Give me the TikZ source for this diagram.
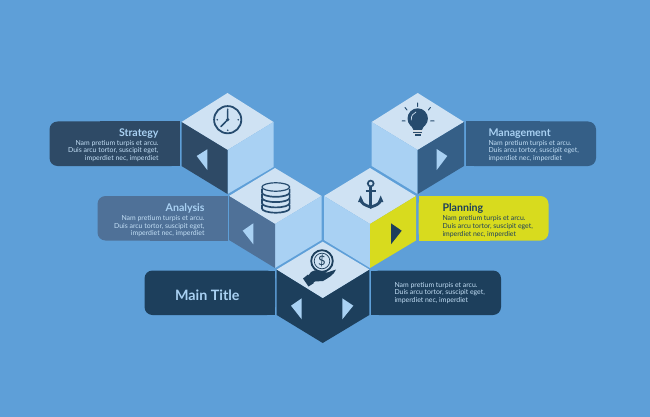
\documentclass[tikz,border=0pt]{standalone}
\usepackage{fontspec}
\setmainfont{Lato}
\usetikzlibrary{positioning}
\definecolor{bgblue}{HTML}{5E9FD8}
\definecolor{topface}{HTML}{CFE2F3}
\definecolor{sideface}{HTML}{A9D1F3}
\definecolor{stratblue}{HTML}{2E4A66}
\definecolor{analblue}{HTML}{4F7198}
\definecolor{mgmtblue}{HTML}{355F87}
\definecolor{planyellow}{HTML}{D8DB1E}
\definecolor{mainblue}{HTML}{1D3F5C}
\definecolor{icondark}{HTML}{264B6E}
\definecolor{lighttext}{HTML}{C3DFF6}
\tikzstyle{title} = [inner sep=0pt, font=\fontsize{10.6}{11}\selectfont\bfseries, text=sideface]
\tikzstyle{body} = [inner sep=0pt, font=\fontsize{6.9}{7.7}\selectfont, text=lighttext]
\tikzstyle{iconline} = [draw=icondark, line width=1.8pt]
\tikzstyle{panel} = [rounded corners=8pt]
\begin{document}
\begin{tikzpicture}[x=1pt, y=-1pt]
  \fill[bgblue] (0,0) rectangle (650,417);
  \useasboundingbox (0,0) rectangle (650,417);

  % Panels
  \fill[stratblue, panel] (49.5,121.5) rectangle (179.5,166);
  \fill[stratblue] (100,121.5) rectangle (179.5,166);
  \fill[analblue, panel] (97.5,196) rectangle (227.5,240.5);
  \fill[analblue] (150,196) rectangle (227.5,240.5);
  \fill[mgmtblue, panel] (466,121.5) rectangle (596,166);
  \fill[mgmtblue] (466,121.5) rectangle (540,166);
  \fill[planyellow, panel] (418.5,196) rectangle (548.5,240.5);
  \fill[planyellow] (418.5,196) rectangle (490,240.5);
  \fill[mainblue, panel] (144.5,270.5) rectangle (275,315);
  \fill[mainblue] (200,270.5) rectangle (275,315);
  \fill[mainblue, panel] (371,270.5) rectangle (501,315);
  \fill[mainblue] (371,270.5) rectangle (440,315);

  % Strategy cube
  \fill[topface] (227.5,93) -- (273.5,122) -- (227.5,150) -- (181.5,122) -- cycle;
  \fill[sideface] (227.5,150) -- (273.5,122) -- (273.5,167) -- (227.5,194) -- cycle;
  \fill[stratblue] (181.5,122) -- (227.5,150) -- (227.5,194) -- (181.5,166) -- cycle;
  \fill[sideface] (196.7,156) -- (207.3,149.3) -- (207.3,170) -- cycle;

  % Analysis cube
  \fill[topface] (275,168) -- (321.5,196) -- (275,224) -- (229,196) -- cycle;
  \fill[sideface] (275,224) -- (321.5,196) -- (321.5,240) -- (275,268) -- cycle;
  \fill[analblue] (229,196) -- (275,224) -- (275,268) -- (229,240) -- cycle;
  \fill[sideface] (242.7,230.7) -- (253.3,223.3) -- (253.3,244.3) -- cycle;

  % Management cube
  \fill[topface] (417.7,93) -- (464,122) -- (417.7,150) -- (371.7,122) -- cycle;
  \fill[sideface] (371.7,122) -- (417.7,150) -- (417.7,194) -- (371.7,166) -- cycle;
  \fill[mgmtblue] (417.7,150) -- (464,122) -- (464,166) -- (417.7,194) -- cycle;
  \fill[sideface] (436.7,149) -- (447.3,156) -- (436.7,170) -- cycle;

  % Planning cube
  \fill[topface] (370,168) -- (416,196) -- (370,224) -- (324,196) -- cycle;
  \fill[sideface] (324,196) -- (370,224) -- (370,268) -- (324,240) -- cycle;
  \fill[planyellow] (370,224) -- (416,196) -- (416,240.5) -- (370,268) -- cycle;
  \fill[mainblue] (391,223.3) -- (401.7,230.7) -- (391,244.3) -- cycle;

  % Main cube
  \fill[mainblue] (276.7,269.5) -- (322.7,298) -- (369.3,269.5) -- (369.3,315) -- (322.7,343) -- (276.7,315) -- cycle;
  \fill[topface] (322.7,241.7) -- (369.3,269.5) -- (322.7,298) -- (276.7,269.5) -- cycle;
  \fill[sideface] (291,305.7) -- (301.7,298.3) -- (301.7,319.3) -- cycle;
  \fill[sideface] (342.3,298.3) -- (353.3,305.7) -- (342.3,319.3) -- cycle;

  % Clock
  \draw[iconline] (227.7,119.7) circle (13.6);
  \draw[iconline, line width=1.5pt, line cap=round] (227.7,110.5) -- (227.7,119.7) -- (221,126.5);
  \fill[icondark] (227.7,119.7) circle (1.8);
  \foreach \dx/\dy in {0/-10.5, 10.5/0, 0/10.5, -10.5/0}
    \fill[icondark] (227.7+\dx,119.7+\dy) circle (0.9);

  % Coins
  \foreach \cy in {208.5,203.2,197.9,192.6}
    \draw[iconline, line width=1.7pt, fill=topface] (262,\cy-4) -- (262,\cy) arc[start angle=180, end angle=360, x radius=13.8, y radius=-4.2] -- (289.6,\cy-4);
  \draw[iconline, line width=1.2pt, fill=topface] (275.8,187) ellipse (13.8 and 4.2);

  % Bulb
  \fill[icondark] (417.7,118.5) circle (10.2);
  \fill[icondark] (411,125) -- (424.4,125) -- (422,130) -- (413.4,130) -- cycle;
  \fill[white!80!icondark] (413.4,130) rectangle (422,134);
  \draw[icondark, line width=0.9pt] (413.4,132) -- (422,132);
  \fill[icondark] (414.8,134) rectangle (420.6,136.3);
  \draw[topface, line width=0.7pt, line cap=round] (411.3,120) .. controls (411,116) and (413,113) .. (416,112);
  \draw[icondark, line width=1pt, line cap=round] (417.7,103) -- (417.7,106.5) (407,110) -- (405,107.5) (428.4,110) -- (430.4,107.5) (402,121) -- (405,121) (430.5,121) -- (434,121);

  % Anchor
  \draw[icondark, line width=1.7pt] (370.7,183.5) circle (2.9);
  \draw[icondark, line width=3pt] (370.7,186.5) -- (370.7,206);
  \draw[icondark, line width=2pt] (365.5,190.5) -- (375.9,190.5);
  \draw[icondark, line width=2.8pt] (360.5,199) .. controls (361,204) and (366,205.5) .. (370.7,207) .. controls (375.4,205.5) and (380.4,204) .. (380.9,199);
  \fill[icondark] (358,202) -- (360.7,195.5) -- (363.4,202) -- cycle;
  \fill[icondark] (378,202) -- (380.7,195.5) -- (383.4,202) -- cycle;
  \fill[icondark] (366,206) -- (375.4,206) -- (370.7,208.8) -- cycle;

  % Hand with coin
  \draw[mainblue, line width=1.8pt] (322,261) circle (10.8);
  \draw[mainblue, line width=0.7pt] (322,261) circle (7.8);
  \node (dollar) at (322,261) [inner sep=0pt, text=mainblue, font=\fontsize{13}{13}\selectfont] {\$};
  \fill[mainblue] (311,272) .. controls (316,268) and (321,272) .. (327,272.5) -- (336,269.5) .. controls (334,275) and (328,278) .. (323,281) -- (315,281.5) -- (312,283) -- (308,276) -- cycle;
  \fill[mainblue] (303,278.5) -- (308,274.5) -- (314,283) -- (308.5,286.5) -- cycle;

  % Nodes
  \node (strategyT) at (158.7,133.5) [title, anchor=east] {Strategy};
  \node (strategyB) [body, align=right, below=1.5pt of strategyT.south east, anchor=north east] {Nam pretium turpis et arcu.\\Duis arcu tortor, suscipit eget,\\imperdiet nec, imperdiet};
  \node (analysisT) at (204.7,208.8) [title, anchor=east] {Analysis};
  \node (analysisB) [body, align=right, below=1.5pt of analysisT.south east, anchor=north east] {Nam pretium turpis et arcu.\\Duis arcu tortor, suscipit eget,\\imperdiet nec, imperdiet};
  \node (managementT) at (488.3,133.5) [title, anchor=west] {Management};
  \node (managementB) [body, align=left, below=1.5pt of managementT.south west, anchor=north west] {Nam pretium turpis et arcu.\\Duis arcu tortor, suscipit eget,\\imperdiet nec, imperdiet};
  \node (planningT) at (442.3,208.8) [title, anchor=west, text=mainblue] {Planning};
  \node (planningB) [body, align=left, text=mainblue, below=1.5pt of planningT.south west, anchor=north west] {Nam pretium turpis et arcu.\\Duis arcu tortor, suscipit eget,\\imperdiet nec, imperdiet};
  \node (mainT) at (207.3,295) [title, font=\fontsize{14.3}{15}\selectfont\bfseries] {Main Title};
  \node (mainB) at (394.3,293) [body, align=left, anchor=west] {Nam pretium turpis et arcu.\\Duis arcu tortor, suscipit eget,\\imperdiet nec, imperdiet};
\end{tikzpicture}
\end{document}
